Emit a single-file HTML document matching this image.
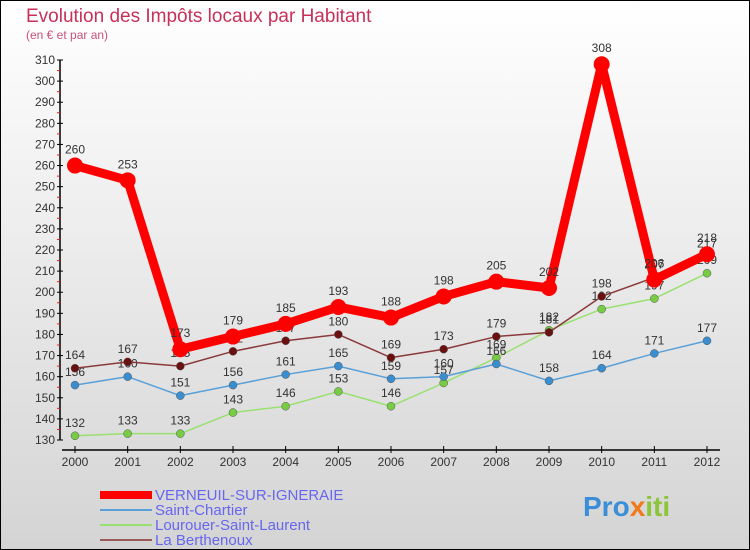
<!DOCTYPE html>
<html><head><meta charset="utf-8"><style>
html,body{margin:0;padding:0}
body{width:750px;height:550px;overflow:hidden;font-family:"Liberation Sans",sans-serif}
#wrap{position:absolute;left:0;top:0;width:748px;height:548px;border:1px solid #000;background:linear-gradient(#fff,#d4d4d4)}
</style></head><body>
<div id="wrap"></div>
<svg id="c" width="750" height="550" style="position:absolute;left:0;top:0">
<text x="26" y="22" font-size="19" fill="#c8305a">Evolution des Impôts locaux par Habitant</text>
<text x="26" y="39" font-size="12" fill="#c8507a">(en € et par an)</text>
<g id="axes"></g><g id="series"></g><g id="legend"></g>
<text x="583" y="516" font-size="28" font-weight="bold"><tspan fill="#3a8fd8">Pro</tspan><tspan fill="#f07a1a">x</tspan><tspan fill="#8cc43a">iti</tspan></text>
</svg>
<script>
const years=[2000,2001,2002,2003,2004,2005,2006,2007,2008,2009,2010,2011,2012];
const verneuil=[260,253,173,179,185,193,188,198,205,202,308,206,218];
const chartier=[156,160,151,156,161,165,159,160,166,158,164,171,177];
const lourouer=[132,133,133,143,146,153,146,157,169,182,192,197,209];
const berthenoux=[164,167,165,172,177,180,169,173,179,181,198,207,217];
const yTicks=[130,140,150,160,170,180,190,200,210,220,230,240,250,260,270,280,290,300,310];
const NS='http://www.w3.org/2000/svg';
const X=i=>75+i*(707-75)/(years.length-1);
const Y=v=>440-(v-130)*380/180;
function mk(p,t,a){const e=document.createElementNS(NS,t);for(const k in a)e.setAttribute(k,a[k]);p.appendChild(e);return e;}
const ax=document.getElementById('axes');
let yl=mk(ax,'line',{x1:60,y1:Y(310),x2:60,y2:Y(130),stroke:'#000','stroke-width':1.5});


let xl=mk(ax,'line',{x1:62,y1:450,x2:720,y2:450,stroke:'#000','stroke-width':1.5});


yTicks.forEach(v=>{
 mk(ax,'line',{x1:57,y1:Y(v),x2:63,y2:Y(v),stroke:'#000'});
 if(v<310)mk(ax,'line',{x1:57,y1:Y(v+5),x2:60,y2:Y(v+5),stroke:'#e02020'});
 const t=mk(ax,'text',{x:55,y:Y(v)+4,'text-anchor':'end','font-size':12,fill:'#333'});t.textContent=v;
 
 
});
years.forEach((y,i)=>{
 mk(ax,'line',{x1:X(i),y1:446,x2:X(i),y2:453,stroke:'#000'});
 const t=mk(ax,'text',{x:X(i),y:466,'text-anchor':'middle','font-size':12,fill:'#333'});t.textContent=y;
 
 
});
const sg=document.getElementById('series');
const defs=[
 {d:lourouer,c:'#99e070',f:'#77cc44',w:1.5,r:4,n:'lourouer-saint-laurent'},
 {d:chartier,c:'#5aa0d8',f:'#3a8ed0',w:1.5,r:4,n:'saint-chartier'},
 {d:berthenoux,c:'#8a3a3a',f:'#6a1010',w:1.5,r:4,n:'la-berthenoux'},
 {d:verneuil,c:'#f00',f:'#f00',w:9,r:8,n:'verneuil-sur-igneraie'}];
defs.forEach(s=>{
 const g=mk(sg,'g',{});
 
 
 const pl=mk(g,'polyline',{points:s.d.map((v,i)=>X(i)+','+Y(v)).join(' '),fill:'none',stroke:s.c,'stroke-width':s.w,'stroke-linejoin':'round'});
 
 
 s.d.forEach((v,i)=>{
  const c=mk(g,'circle',{cx:X(i),cy:Y(v),r:s.r,fill:s.f,stroke:s.w>2?'none':'#555','stroke-width':0.5});
  
  
  const t=mk(g,'text',{x:X(i),y:Y(v)-9-(s.w>2?3:0),'text-anchor':'middle','font-size':12,fill:'#333'});t.textContent=v;
  
  
 });
});
const lg=document.getElementById('legend');
const leg=[['VERNEUIL-SUR-IGNERAIE','#f00',8],['Saint-Chartier','#5aa0d8',2],['Lourouer-Saint-Laurent','#99e070',2],['La Berthenoux','#9a5a5a',2]];
leg.forEach((l,i)=>{
 const y=493+i*15;
 const g=mk(lg,'g',{});
 
 
 mk(g,'line',{x1:100,y1:y+2,x2:152,y2:y+2,stroke:l[1],'stroke-width':l[2]});
 const t=mk(g,'text',{x:155,y:y+7,'font-size':15,fill:'#6666ee'});t.textContent=l[0];
});
</script>
</body></html>
